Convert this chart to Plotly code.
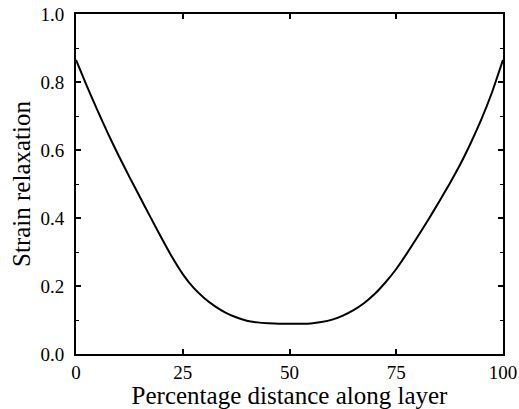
import plotly.graph_objects as go

distance = [0, 2.5, 5, 7.5, 10, 12.5, 15, 17.5, 20, 22.5, 25, 27.5, 30, 32.5, 35,
            37.5, 40, 42.5, 45, 47.5, 50, 52.5, 55, 57.5, 60, 62.5, 65, 67.5, 70,
            72.5, 75, 77.5, 80, 82.5, 85, 87.5, 90, 92.5, 95, 97.5, 100]
relaxation = [0.865, 0.789, 0.717, 0.648, 0.583, 0.521, 0.461, 0.401, 0.342, 0.285,
              0.235, 0.195, 0.165, 0.141, 0.122, 0.108, 0.098, 0.093, 0.0905, 0.089,
              0.089, 0.089, 0.090, 0.094, 0.101, 0.113, 0.129, 0.150, 0.177, 0.211,
              0.250, 0.296, 0.345, 0.395, 0.447, 0.501, 0.558, 0.622, 0.692, 0.772, 0.865]

x_ticks = [0, 25, 50, 75, 100]
y_ticks = [0.0, 0.2, 0.4, 0.6, 0.8, 1.0]
y_ticklabels = ["0.0", "0.2", "0.4", "0.6", "0.8", "1.0"]

FONT = "Liberation Serif, Times New Roman, serif"

fig = go.Figure(go.Scatter(
    x=distance, y=relaxation, mode="lines",
    line=dict(color="black", width=2, shape="spline", smoothing=0.5),
    hoverinfo="skip", showlegend=False,
))

fig.update_layout(
    width=519, height=409,
    margin=dict(l=76, r=16, t=14, b=55, autoexpand=False),
    paper_bgcolor="white", plot_bgcolor="white",
    font=dict(family=FONT, color="black", size=19),
)
fig.update_xaxes(
    range=[0, 100], tickvals=x_ticks, ticktext=[str(v) for v in x_ticks],
    ticks="inside", ticklen=5, tickwidth=1.5, tickcolor="black",
    showline=True, linecolor="black", linewidth=2, mirror="ticks",
    showgrid=False, zeroline=False,
    tickfont=dict(family=FONT, size=19),
    title=dict(text="Percentage distance along layer", font=dict(family=FONT, size=25), standoff=4),
)
fig.update_yaxes(
    range=[0, 1.0], tickvals=y_ticks, ticktext=y_ticklabels,
    ticks="inside", ticklen=5, tickwidth=1.5, tickcolor="black",
    minor=dict(dtick=0.1, ticks="inside", ticklen=3, tickwidth=1, tickcolor="black"),
    showline=True, linecolor="black", linewidth=2, mirror="ticks",
    showgrid=False, zeroline=False,
    tickfont=dict(family=FONT, size=19),
    ticklabelstandoff=6,
    title=dict(text="Strain relaxation", font=dict(family=FONT, size=25), standoff=3),
)

fig.write_html("out.html", config={"displayModeBar": False},
               post_script="document.body.style.margin='0';")
